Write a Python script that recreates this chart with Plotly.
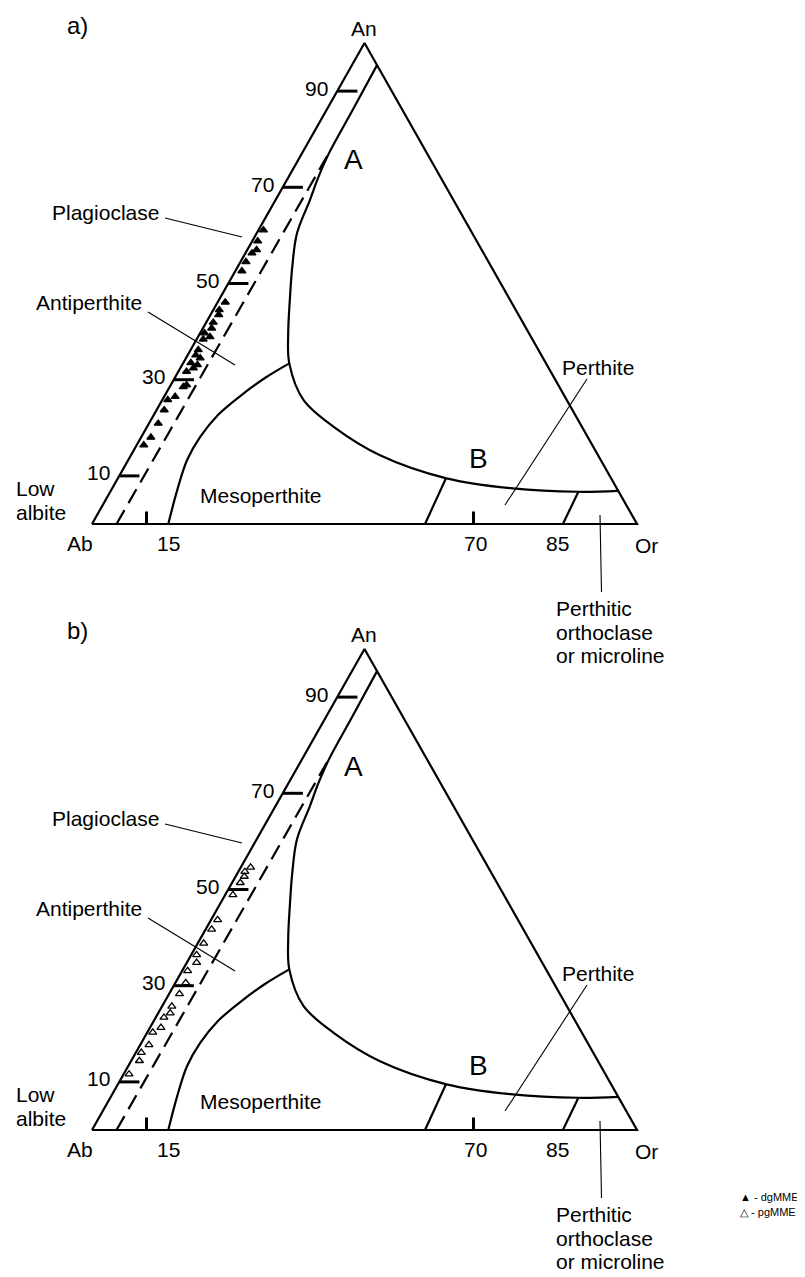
import plotly.graph_objects as go

# compositions in mol % -- An (anorthite) and Or (orthoclase), Ab is the rest
solvus_an = [95.4, 86.0, 77.0, 72.0, 67.4, 60.4, 53.5, 46.6, 39.6, 33.4, 25.8, 20.0, 14.3, 9.5, 7.4, 6.7, 6.9]
solvus_or = [4.6, 4.8, 4.95, 5.5, 6.3, 7.4, 10.0, 13.0, 16.2, 19.5, 25.9, 34.6, 45.7, 60.3, 73.5, 85.9, 93.1]

meso_an = [33.4, 30.4, 26.6, 22.7, 18.1, 13.3, 7.1, 0.0]
meso_or = [19.5, 16.6, 13.9, 11.8, 10.8, 10.8, 12.1, 14.0]

dashed_an = [0.0, 78.0]
dashed_or = [4.5, 4.9]

perthite_an = [[0.0, 9.5], [0.0, 6.7]]
perthite_or = [[61.1, 60.2], [86.4, 85.9]]

# dgMME (panel a)
dg_an = [61.1, 58.8, 57.0, 56.3, 54.5, 52.6, 46.1, 44.5, 43.5, 41.9, 40.7, 39.7, 38.9, 38.4, 36.2,
         35.1, 34.5, 33.5, 33.1, 32.4, 31.7, 28.9, 28.5, 26.5, 25.8, 23.7, 20.9, 18.0, 16.4]
dg_or = [0.9, 1.0, 1.7, 1.2, 1.0, 1.2, 1.4, 1.1, 1.5, 1.3, 1.6, 0.8, 2.2, 1.2, 1.4,
         1.5, 2.6, 1.4, 2.8, 2.4, 1.5, 2.9, 2.5, 2.0, 1.0, 1.4, 1.7, 1.8, 1.3]

# pgMME (panel b)
pg_an = [54.6, 53.7, 52.7, 51.4, 48.9, 43.7, 41.7, 38.8, 36.4, 34.8, 33.1, 30.6, 28.3, 25.7,
         24.3, 23.4, 21.3, 20.3, 17.7, 16.1, 14.4, 11.6]
pg_or = [1.8, 1.2, 1.6, 1.5, 1.4, 1.2, 1.1, 1.1, 1.0, 1.8, 1.0, 1.9, 1.9, 1.8,
         2.2, 1.5, 2.0, 1.0, 1.6, 1.0, 1.5, 1.0]

an_ticks = [10, 30, 50, 70, 90]
base_ticks = [10, 70]
base_labels = [15, 70, 85]

# page geometry in pixels of the 805x1277 page; the body has an 8px margin
PAD = 8
FW, FH = 805 - PAD, 1277 - PAD
AB_PX, OR_PX = 92.0, 637.0
BASE_PX, APEX_PX = 524.0, 43.0
SHIFT = 606          # panel b is the same drawing, lower down
SPLIT = 620
SX = (OR_PX - AB_PX) / 100.0
SY = (BASE_PX - APEX_PX) / 100.0

FONT = "Liberation Sans, Arial, sans-serif"
LW = 2.2


def tern(an, orr):
    return [o + a / 2.0 for a, o in zip(an, orr)], list(an)


def data_xy(px, py):
    return (px - AB_PX) / SX, (BASE_PX - py) / SY


def paper(px, py):
    return (px - PAD) / FW, 1 - (py - PAD) / FH


fig = go.Figure()
annotations = []


def text(t, px, py, size=21, xanchor="center"):
    x, y = paper(px, py)
    annotations.append(dict(x=x, y=y, xref="paper", yref="paper", text=t, showarrow=False,
                            xanchor=xanchor, yanchor="middle",
                            font=dict(family=FONT, size=size, color="black")))


panels = [("x", "y", "a)", 0, dg_an, dg_or, "triangle-up"),
          ("x2", "y2", "b)", SHIFT, pg_an, pg_or, "triangle-up-open")]

for xa, ya, tag, off, p_an, p_or, sym in panels:
    def line(xs, ys, width=LW, dash=None, shape="linear"):
        fig.add_trace(go.Scatter(x=xs, y=ys, mode="lines", xaxis=xa, yaxis=ya,
                                 line=dict(color="black", width=width, dash=dash, shape=shape),
                                 showlegend=False, hoverinfo="skip", cliponaxis=False))

    # outline Ab -> An -> Or -> Ab
    tx, ty = tern([0, 100, 0, 0], [0, 0, 100, 0])
    line(tx, ty)

    xs, ys = [], []
    for t in an_ticks:
        xs += [t / 2.0, t / 2.0 + 3.7, None]
        ys += [t, t, None]
    line(xs, ys, width=3)
    xs, ys = [], []
    for t in base_ticks:
        xs += [t, t, None]
        ys += [0, 2.6, None]
    line(xs, ys, width=3)

    dx, dy = tern(dashed_an, dashed_or)
    line(dx, dy, dash="16px,8px")

    sx, sy = tern(solvus_an, solvus_or)
    line(sx, sy, shape="spline")
    mx, my = tern(meso_an, meso_or)
    line(mx, my, shape="spline")
    for pa, po in zip(perthite_an, perthite_or):
        qx_, qy_ = tern(pa, po)
        line(qx_, qy_)

    # leader lines
    for (x0, y0), (x1, y1) in [((165, 218), (242, 237)), ((148, 312), (235, 365)),
                               ((587, 379), (505, 505)), ((600, 515), (601.5, 592))]:
        a0, b0 = data_xy(x0, y0)
        a1, b1 = data_xy(x1, y1)
        line([a0, a1], [b0, b1], width=1.1)

    qx, qy = tern(p_an, p_or)
    fig.add_trace(go.Scatter(x=qx, y=qy, mode="markers", xaxis=xa, yaxis=ya,
                             marker=dict(symbol=sym, size=7, color="black",
                                         line=dict(color="black", width=1.3)),
                             showlegend=False, cliponaxis=False))

    for t in an_ticks:
        annotations.append(dict(x=t / 2.0, y=t, xref=xa, yref=ya, text=str(t), showarrow=False,
                                xanchor="right", yanchor="middle", xshift=-7, yshift=3,
                                font=dict(family=FONT, size=21, color="black")))
    for t in base_labels:
        annotations.append(dict(x=t, y=0, xref=xa, yref=ya, text=str(t), showarrow=False,
                                xanchor="center", yanchor="middle", yshift=-19,
                                xshift=-5 if t == 15 else 2,
                                font=dict(family=FONT, size=21, color="black")))

    text(tag, 77, 25 + off, size=24)
    text("An", 364, 28 + off)
    text("Ab", 80, 543 + off)
    text("Or", 646, 545 + off)
    text("Low", 14, 488 + off, xanchor="left")
    text("albite", 14, 512 + off, xanchor="left")
    text("Mesoperthite", 198, 495 + off, xanchor="left")
    text("Plagioclase", 161, 212 + off, xanchor="right")
    text("Antiperthite", 144, 302 + off, xanchor="right")
    text("Perthite", 560, 367 + off, xanchor="left")
    text("Perthitic", 554, 608 + off, xanchor="left")
    text("orthoclase", 554, 632 + off, xanchor="left")
    text("or microline", 554, 655.5 + off, xanchor="left")
    text("A", 353, 160 + off, size=28)
    text("B", 478, 459 + off, size=28)

# key
text("\u25b2 - dgMME", 738, 1197, size=11, xanchor="left")
text("\u25b3 - pgMME", 738, 1212, size=11, xanchor="left")

xrange_ = [(PAD - AB_PX) / SX, (PAD + FW - AB_PX) / SX]
axis = dict(visible=False, showgrid=False, zeroline=False, fixedrange=True)
split = 1 - (SPLIT - PAD) / FH
base_b = BASE_PX + SHIFT
fig.update_layout(
    width=FW, height=FH,
    margin=dict(l=0, r=0, t=0, b=0),
    paper_bgcolor="white", plot_bgcolor="white",
    xaxis=dict(axis, domain=[0, 1], range=xrange_),
    yaxis=dict(axis, domain=[split, 1],
               range=[(BASE_PX - SPLIT) / SY, (BASE_PX - PAD) / SY]),
    xaxis2=dict(axis, domain=[0, 1], range=xrange_),
    yaxis2=dict(axis, domain=[0, split],
                range=[(base_b - PAD - FH) / SY, (base_b - SPLIT) / SY]),
    annotations=annotations,
    showlegend=False,
)

fig.write_html("out.html")
